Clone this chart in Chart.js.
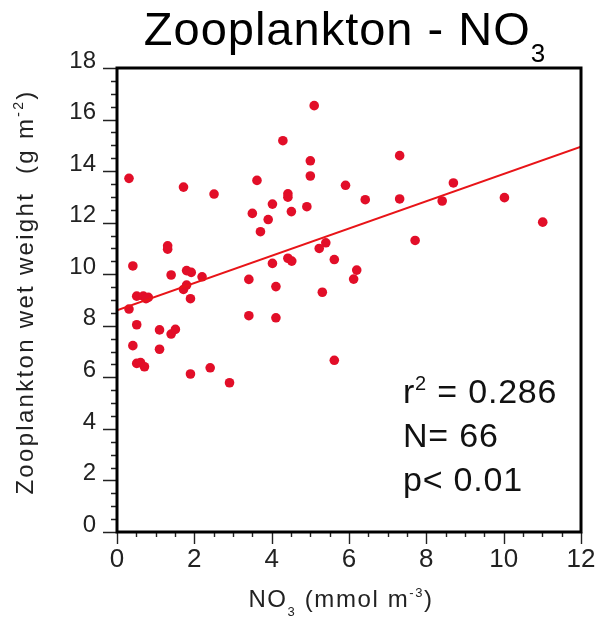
<!DOCTYPE html>
<html>
<head>
<meta charset="utf-8">
<script src="https://cdn.jsdelivr.net/npm/chart.js@4.4.1/dist/chart.umd.min.js"></script>
<style>
  html, body { margin: 0; padding: 0; background: #fff; }
  #wrap { width: 599px; height: 618px; }
</style>
</head>
<body>
<div id="wrap"><canvas id="chart" width="599" height="618"></canvas></div>
<script>
// NO3 (mmol m-3) per station
const no3 = [0.31, 0.41, 1.72, 2.51, 1.31, 1.31, 1.40, 1.80, 1.92, 2.20,
  1.72, 1.80, 1.90, 0.51, 0.68, 0.81, 5.10, 4.29, 5.00, 5.00,
  3.62, 5.91, 4.42, 4.42, 4.02, 3.50, 4.91, 4.51, 3.91, 3.71,
  5.40, 5.23, 5.62, 4.02, 4.42, 4.52, 3.41, 4.11, 5.31, 6.20,
  6.12, 0.31, 0.51, 0.41, 1.10, 1.40, 1.51, 1.10, 0.51, 0.61,
  0.71, 1.90, 2.41, 2.91, 3.41, 4.11, 5.62, 7.31, 6.42, 7.31,
  8.70, 8.41, 10.02, 11.01, 7.71, 0.75];
// zooplankton wet weight (g m-2), same order
const zoo = [13.72, 10.32, 13.38, 13.11, 11.10, 10.97, 9.97, 10.14, 10.07, 9.90,
  9.41, 9.58, 9.05, 9.15, 9.15, 9.10, 16.54, 15.18, 14.40, 13.81,
  13.64, 13.45, 13.12, 12.99, 12.72, 12.36, 12.62, 12.43, 12.12, 11.65,
  11.22, 11.00, 10.57, 10.42, 10.62, 10.51, 9.80, 9.52, 9.30, 10.16,
  9.81, 8.65, 8.04, 7.23, 7.84, 7.68, 7.86, 7.09, 6.54, 6.57,
  6.41, 6.13, 6.37, 5.79, 8.39, 8.31, 6.66, 14.60, 12.89, 12.92,
  13.54, 12.84, 12.97, 12.02, 11.31, 9.05];
// regression line ends
const fitX = [0, 12];
const fitY = [8.6, 14.95];
// labelled ticks
const xTicks = [0, 2, 4, 6, 8, 10, 12];
const yTicks = [0, 2, 4, 6, 8, 10, 12, 14, 16, 18];

const FONT = "'Liberation Sans', Arial, sans-serif";

// pieces = [text, size, shift] ; shift moves baseline (sub/sup)
const piecesWidth = (ctx, pieces) => {
  let w = 0;
  pieces.forEach(([t, size]) => {
    ctx.font = size + "px " + FONT;
    w += ctx.measureText(t).width;
  });
  return w;
};
const drawPieces = (ctx, pieces, x, y) => {
  let cx = x;
  pieces.forEach(([t, size, shift]) => {
    ctx.font = size + "px " + FONT;
    ctx.fillText(t, cx, y + shift);
    cx += ctx.measureText(t).width;
  });
};

const titlePieces = [["Zooplankton - NO", 47, 0], ["3", 26, 17]];
const xTitlePieces = [["NO", 24, 0], ["3", 13, 9], [" (mmol m", 24, 0], ["-3", 13, -10], [")", 24, 0]];
const yTitlePieces = [["Zooplankton wet weight  (g m", 24, 0], ["-2", 14, -10], [")", 24, 0]];
const statPieces = [
  [["r", 34, 0], ["2", 20, -13], [" = 0.286", 34, 0]],
  [["N= 66", 34, 0]],
  [["p< 0.01", 34, 0]],
];

//Desenha moldura, marcas dos eixos e textos
const decor = {
  id: "decor",
  afterDraw(chart) {
    const { ctx, chartArea: a, scales } = chart;
    const xs = scales.x, ys = scales.y;
    ctx.save();
    ctx.strokeStyle = "#222";
    ctx.lineWidth = 1.4;
    ctx.beginPath();
    xs.ticks.forEach((t) => {
      const px = Math.round(xs.getPixelForValue(t.value)) + 0.5;
      const len = xTicks.includes(t.value) ? 12 : 5;
      ctx.moveTo(px, a.bottom);
      ctx.lineTo(px, a.bottom + len);
    });
    ys.ticks.forEach((t) => {
      const py = Math.round(ys.getPixelForValue(t.value)) + 0.5;
      const len = yTicks.includes(t.value) ? 14 : 6;
      ctx.moveTo(a.left, py);
      ctx.lineTo(a.left - len, py);
    });
    ctx.stroke();

    ctx.strokeStyle = "#000";
    ctx.lineWidth = 3;
    ctx.strokeRect(a.left, a.top, a.right - a.left, a.bottom - a.top);

    ctx.fillStyle = "#000";
    ctx.textBaseline = "alphabetic";
    ctx.textAlign = "left";
    ctx.letterSpacing = "1px";
    let w = piecesWidth(ctx, titlePieces);
    drawPieces(ctx, titlePieces, 345 - w / 2, 45);

    ctx.fillStyle = "#222";
    ctx.letterSpacing = "1.6px";
    w = piecesWidth(ctx, xTitlePieces);
    drawPieces(ctx, xTitlePieces, 341 - w / 2, 607);

    ctx.letterSpacing = "2.3px";
    w = piecesWidth(ctx, yTitlePieces);
    ctx.save();
    ctx.translate(33, 292);
    ctx.rotate(-Math.PI / 2);
    drawPieces(ctx, yTitlePieces, -w / 2, 0);
    ctx.restore();

    ctx.fillStyle = "#111";
    ctx.letterSpacing = "0.8px";
    statPieces.forEach((p, i) => drawPieces(ctx, p, 403, 403 + i * 44));
    ctx.restore();
  },
};

new Chart(document.getElementById("chart"), {
  data: {
    datasets: [
      {
        type: "line",
        data: fitX.map((v, i) => ({ x: v, y: fitY[i] })),
        borderColor: "rgb(232, 20, 24)",
        borderWidth: 2,
        pointRadius: 0,
        order: 0,
      },
      {
        type: "scatter",
        data: no3.map((v, i) => ({ x: v, y: zoo[i] })),
        backgroundColor: "rgb(226, 14, 40)",
        borderWidth: 0,
        pointRadius: 4.8,
        order: 1,
      },
    ],
  },
  options: {
    responsive: false,
    animation: false,
    devicePixelRatio: 1,
    layout: { autoPadding: false, padding: { top: 68, right: 18, left: 0, bottom: 0 } },
    plugins: {
      legend: { display: false },
      tooltip: { enabled: false },
    },
    scales: {
      x: {
        type: "linear",
        min: 0,
        max: 12,
        grid: { display: false, drawTicks: false },
        border: { display: false },
        ticks: {
          stepSize: 0.5,
          autoSkip: false,
          maxRotation: 0,
          padding: 12,
          color: "#222",
          font: { family: FONT, size: 26 },
          callback: (v) => (xTicks.includes(v) ? v : ""),
        },
        afterFit: (s) => {
          s.height = 86;
          s.paddingLeft = 0;
          s.paddingRight = 0;
        },
      },
      y: {
        type: "linear",
        min: 0,
        max: 18,
        grid: { display: false, drawTicks: false },
        border: { display: false },
        ticks: {
          stepSize: 0.5,
          autoSkip: false,
          padding: 21,
          labelOffset: -7,
          color: "#222",
          font: { family: FONT, size: 24 },
          callback: (v) => (yTicks.includes(v) ? v : ""),
        },
        afterFit: (s) => {
          s.width = 117;
        },
      },
    },
  },
  plugins: [decor],
});
</script>
</body>
</html>
